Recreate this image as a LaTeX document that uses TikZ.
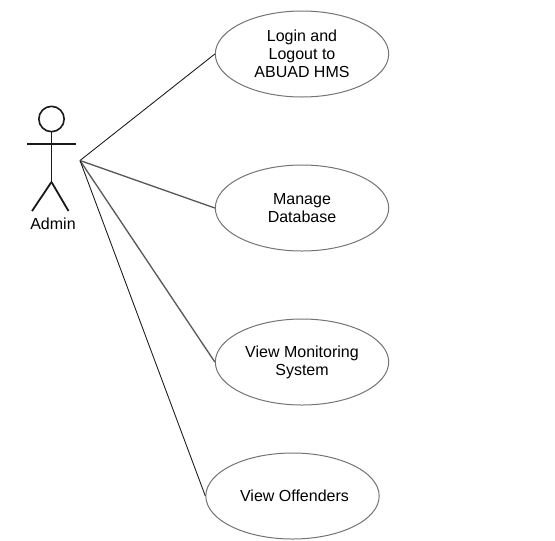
\documentclass[tikz,border=0pt]{standalone}
\usepackage{fontspec}
\setmainfont{Liberation Sans}
\usetikzlibrary{shapes.geometric}
\tikzset{
  usecase/.style={ellipse,draw=black!55,line width=0.75pt,minimum width=130pt,minimum height=64.5pt,align=center,inner sep=0pt,font=\fontsize{12pt}{13.5pt}\selectfont},
  assoc/.style={draw=black!90,line width=0.65pt},
  assocgray/.style={draw=black!65,line width=1pt},
  limb/.style={draw=black!90,line width=1.35pt}
}
\begin{document}
\begin{tikzpicture}[x=0.75pt,y=-0.75pt]
\useasboundingbox (0,0) rectangle (555,540);
\node[usecase] (login) at (302,54) {Login and\\Logout to\\ABUAD HMS};
\node[usecase] (manage) at (302,208) {Manage\\Database};
\node[usecase] (monitor) at (302,362) {View Monitoring\\System};
\node[usecase] (offend) at (292.5,496) {\hspace{3pt}View Offenders};
\node[circle,draw=black!90,line width=1.2pt,minimum size=19pt,inner sep=0pt] (head) at (51.5,119) {};
\coordinate (hip) at (51.5,182);
\coordinate (armL) at (27,144);
\coordinate (armR) at (76,144);
\coordinate (footL) at (32,211);
\coordinate (footR) at (68.5,211);
\coordinate (anchor) at (80,160.5);
\draw[limb] (head.south) -- (hip);
\draw[limb] (armL) -- (armR);
\draw[limb] (hip) -- (footL);
\draw[limb] (hip) -- (footR);
\node[font=\fontsize{12pt}{13pt}\selectfont] (admin) at (53,223.5) {Admin};
\draw[assoc] (anchor) -- (login.west);
\draw[assocgray] (anchor) -- (manage.west);
\draw[assocgray] (anchor) -- (monitor.west);
\draw[assoc] (anchor) -- (offend.west);
\end{tikzpicture}
\end{document}
